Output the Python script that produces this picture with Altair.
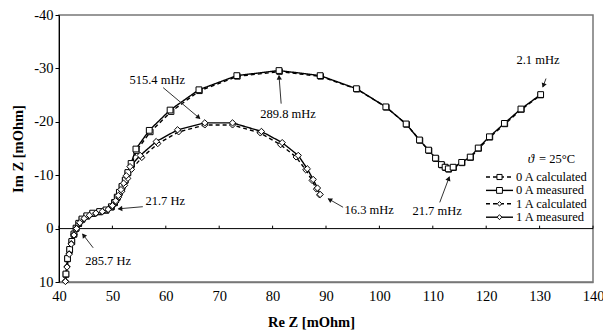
import math
import altair as alt
import pandas as pd

# Impedance spectra (Nyquist plot), Re Z / Im Z in mOhm
series_names = ["0 A calculated", "0 A measured", "1 A calculated", "1 A measured"]

re_0a_meas = [41.3, 41.6, 42.0, 42.4, 42.8, 43.2, 43.7, 44.3, 45.2, 46.3, 47.6, 48.8,
              49.8, 50.4, 50.9, 51.3, 51.8, 52.4, 52.9, 53.5, 54.4, 56.9, 60.8, 66.2,
              73.3, 81.2, 88.9, 95.7, 101.2, 105.0, 107.5, 109.2, 110.5, 111.6, 112.3,
              112.9, 113.8, 115.4, 117.0, 118.5, 120.6, 123.4, 126.5, 130.2]
im_0a_meas = [8.5, 5.6, 3.9, 2.4, 1.0, -0.1, -1.0, -1.8, -2.4, -2.9, -3.2, -3.5,
              -4.1, -4.9, -5.9, -6.8, -7.9, -9.1, -10.5, -12.2, -14.9, -18.4, -22.2, -26.0,
              -28.65, -29.6, -28.65, -26.2, -22.8, -19.6, -16.6, -14.7, -13.2, -12.0, -11.5,
              -11.2, -11.5, -12.4, -13.4, -15.1, -17.2, -19.7, -22.4, -25.1]

re_0a_calc = [41.3, 41.6, 42.0, 42.4, 42.8, 43.2, 43.7, 44.3, 45.2, 46.3, 47.6, 48.8,
              49.8, 50.4, 50.9, 51.3, 51.8, 52.4, 52.9, 53.6, 54.5, 57.1, 61.0, 66.3,
              73.4, 81.3, 89.0, 95.8, 101.3, 105.1, 107.6, 109.3, 110.6, 111.7, 112.4,
              113.0, 113.9, 115.5, 117.1, 118.6, 120.7, 123.5, 126.6, 130.2]
im_0a_calc = [8.6, 5.7, 4.0, 2.5, 1.1, 0.0, -0.9, -1.7, -2.3, -2.8, -3.1, -3.4,
              -4.0, -4.8, -5.8, -6.7, -7.8, -9.0, -10.4, -12.0, -14.6, -18.1, -21.9, -25.8,
              -28.5, -29.4, -28.5, -26.1, -22.7, -19.5, -16.5, -14.6, -13.1, -11.9, -11.4,
              -11.1, -11.4, -12.3, -13.3, -15.0, -17.1, -19.6, -22.3, -25.0]

re_1a_meas = [41.2, 41.5, 41.9, 42.3, 42.8, 43.3, 43.9, 44.7, 45.7, 46.9, 48.1, 49.2,
              50.0, 50.6, 51.1, 51.6, 52.1, 52.6, 53.3, 55.2, 58.2, 62.2, 67.3, 72.5,
              77.9, 81.8, 84.8, 86.5, 87.6, 88.4, 88.9]
im_1a_meas = [9.9, 7.2, 4.8, 2.9, 1.2, 0.0, -1.1, -1.9, -2.5, -2.9, -3.2, -3.6,
              -4.3, -5.2, -6.2, -7.3, -8.5, -9.9, -11.6, -13.7, -16.3, -18.5, -19.8, -19.8,
              -18.2, -16.1, -13.7, -11.2, -9.2, -7.6, -6.4]

re_1a_calc = [41.2, 41.5, 41.9, 42.3, 42.8, 43.3, 43.9, 44.7, 45.7, 46.9, 48.1, 49.2,
              50.0, 50.7, 51.2, 51.8, 52.3, 52.9, 53.6, 55.5, 58.5, 62.4, 67.3, 72.5,
              77.7, 81.5, 84.4, 86.2, 87.4, 88.2, 88.8]
im_1a_calc = [9.8, 7.1, 4.7, 2.8, 1.1, -0.1, -1.0, -1.8, -2.4, -2.8, -3.1, -3.5,
              -4.1, -5.0, -5.9, -7.0, -8.1, -9.4, -11.1, -13.3, -15.9, -18.1, -19.4, -19.4,
              -17.9, -15.7, -13.4, -11.0, -9.0, -7.4, -6.3]

# frequency annotations: label, label position, arrow tail, arrow tip
ann_labels = ["515.4 mHz", "289.8 mHz", "2.1 mHz", "21.7 mHz", "16.3 mHz", "21.7 Hz", "285.7 Hz"]
ann_text_re = [58.4, 82.9, 129.7, 110.8, 98.1, 59.9, 49.2]
ann_text_im = [-27.9, -21.5, -31.6, -3.3, -3.4, -5.2, 6.0]
ann_tail_re = [59.5, 81.6, 131.2, 111.3, 93.2, 55.7, 46.4]
ann_tail_im = [-26.4, -23.4, -28.1, -4.9, -4.0, -4.1, 3.6]
ann_tip_re = [66.4, 81.2, 130.6, 113.1, 90.4, 51.1, 44.4]
ann_tip_im = [-20.6, -28.65, -26.5, -9.7, -5.6, -3.7, 1.0]

x_ticks = [40, 50, 60, 70, 80, 90, 100, 110, 120, 130, 140]
y_ticks = [-40, -30, -20, -10, 0, 10]
zero_tick_len = 0.55  # short upward ticks on the Im Z = 0 line

FONT = "Liberation Serif"
W, H = 534, 267
px_per_unit = W / 100.0

rows = []
for name, xs, ys in zip(series_names,
                        [re_0a_calc, re_0a_meas, re_1a_calc, re_1a_meas],
                        [im_0a_calc, im_0a_meas, im_1a_calc, im_1a_meas]):
    for i, (a, b) in enumerate(zip(xs, ys)):
        rows.append({"series": name, "re": a, "im": b, "i": i})
df = pd.DataFrame(rows)

# arrowheads: rotate triangle to point from tail to tip (y grows downward on screen)
ann = pd.DataFrame({
    "label": ann_labels,
    "tx": ann_text_re, "ty": ann_text_im,
    "ax": ann_tail_re, "ay": ann_tail_im,
    "bx": ann_tip_re, "by": ann_tip_im,
})
angles, hx, hy = [], [], []
for _, r in ann.iterrows():
    dx = (r.bx - r.ax)
    dy = (r.by - r.ay)
    ang = math.degrees(math.atan2(dx, -dy)) % 360
    n = math.hypot(dx, dy)
    back = 2.5 / px_per_unit
    angles.append(ang)
    hx.append(r.bx - dx / n * back)
    hy.append(r.by - dy / n * back)
ann["angle"] = angles
ann["hx"] = hx
ann["hy"] = hy

xscale = alt.Scale(domain=[40, 140], nice=False, zero=False)
yscale = alt.Scale(domain=[-40, 10], nice=False, zero=False, reverse=True)

dash_scale = alt.Scale(domain=series_names, range=[[4, 3], [1, 0], [4, 3], [1, 0]])
shape_scale = alt.Scale(domain=series_names, range=["square", "square", "diamond", "diamond"])
size_scale = alt.Scale(domain=series_names, range=[30, 40, 22, 28])

bottom_axis = alt.Axis(values=x_ticks, ticks=False, grid=False, domainColor="#777",
                       domainWidth=1.5, labelFont=FONT, labelFontSize=14.5,
                       labelColor="black", labelPadding=7, labelFlush=False,
                       title="Re Z [mOhm]",
                       titleFont=FONT, titleFontSize=14.5, titleFontWeight="bold",
                       titleColor="black", titleX=252, titleY=40, titleBaseline="middle")
left_axis = alt.Axis(values=y_ticks, grid=False, tickSize=4, tickColor="black",
                     domainColor="black", labelFont=FONT, labelFontSize=14.5,
                     labelColor="black", labelPadding=2, labelFlush=False,
                     labelExpr="'' + datum.value",
                     title="Im Z [mOhm]", titleFont=FONT, titleFontSize=14.5,
                     titleFontWeight="bold", titleColor="black", titleAngle=270,
                     titleX=-41, titleY=133.5, titleBaseline="middle", titleAlign="center")


def X(field):
    return alt.X(field, type="quantitative", scale=xscale, axis=bottom_axis)


def Y(field):
    return alt.Y(field, type="quantitative", scale=yscale, axis=left_axis)


base = alt.Chart(df)

lines = base.mark_line(color="black", strokeWidth=1.4).encode(
    x=X("re"), y=Y("im"),
    detail="series:N",
    order="i:Q",
    strokeDash=alt.StrokeDash("series:N", scale=dash_scale, legend=None),
)

points = base.mark_point(filled=True, fill="white", stroke="black", strokeWidth=1,
                         opacity=1).encode(
    x=X("re"), y=Y("im"),
    shape=alt.Shape("series:N", scale=shape_scale, legend=None),
    size=alt.Size("series:N", scale=size_scale, legend=None),
)

zero_line = alt.Chart(pd.DataFrame({"re": [x_ticks[0]], "re2": [x_ticks[-1]], "im": [0]})).mark_rule(
    color="black", strokeWidth=1).encode(x=X("re"), x2="re2:Q", y=Y("im"))
zero_ticks = alt.Chart(pd.DataFrame({"re": x_ticks, "im": 0.0, "im2": -zero_tick_len})).mark_rule(
    color="black", strokeWidth=1).encode(x=X("re"), y=Y("im"), y2="im2:Q")

ann_base = alt.Chart(ann)
arrows = ann_base.mark_rule(color="#333", strokeWidth=1).encode(
    x=X("ax"), y=Y("ay"), x2="bx:Q", y2="by:Q")
heads = ann_base.mark_point(shape="triangle", filled=True, color="#111", size=28,
                            opacity=1).encode(
    x=X("hx"), y=Y("hy"), angle=alt.Angle("angle:Q", scale=None))
ann_text = ann_base.mark_text(font=FONT, fontSize=12.5, color="black",
                              align="center", baseline="middle").encode(
    x=X("tx"), y=Y("ty"), text="label:N")

# legend block drawn in the lower right of the plot area
legend_layers = []
leg_top, leg_step = 162, 13.4
leg_dash = [[4, 3], None, [4, 3], None]
leg_shape = ["square", "square", "diamond", "diamond"]
leg_size = [26, 34, 20, 24]
for k, name in enumerate(series_names):
    yy = leg_top + k * leg_step
    d = pd.DataFrame({"label": [name]})
    rule_kw = {"color": "black", "strokeWidth": 1.4}
    if leg_dash[k]:
        rule_kw["strokeDash"] = leg_dash[k]
    legend_layers.append(alt.Chart(d).mark_rule(**rule_kw).encode(
        x=alt.value(427), x2=alt.value(454), y=alt.value(yy)))
    legend_layers.append(alt.Chart(d).mark_point(
        shape=leg_shape[k], size=leg_size[k], filled=True, fill="white",
        stroke="black", strokeWidth=1, opacity=1).encode(
        x=alt.value(440.5), y=alt.value(yy)))
    legend_layers.append(alt.Chart(d).mark_text(
        font=FONT, fontSize=12.5, color="black", align="left", baseline="middle").encode(
        x=alt.value(457), y=alt.value(yy), text="label:N"))

# temperature note: italic theta followed by the value
theta_sym = alt.Chart(pd.DataFrame({"t": ["\u03d1"]})).mark_text(
    font=FONT, fontSize=13, color="black", align="center", baseline="middle",
    fontStyle="italic").encode(x=alt.value(472), y=alt.value(144), text="t:N")
temp_value = alt.Chart(pd.DataFrame({"t": ["= 25\u00b0C"]})).mark_text(
    font=FONT, fontSize=12.5, color="black", align="left", baseline="middle").encode(
    x=alt.value(480), y=alt.value(144), text="t:N")

chart = alt.layer(
    lines, zero_line, zero_ticks, points, arrows, heads, ann_text,
    theta_sym, temp_value, *legend_layers
).properties(
    width=W, height=H,
    autosize=alt.AutoSizeParams(type="none"),
    padding={"left": 59, "top": 15, "right": 10, "bottom": 48},
).configure(background="white").configure_view(stroke="#777", strokeWidth=1.5)

chart.save("out.html", embed_options={"renderer": "svg", "actions": False})
